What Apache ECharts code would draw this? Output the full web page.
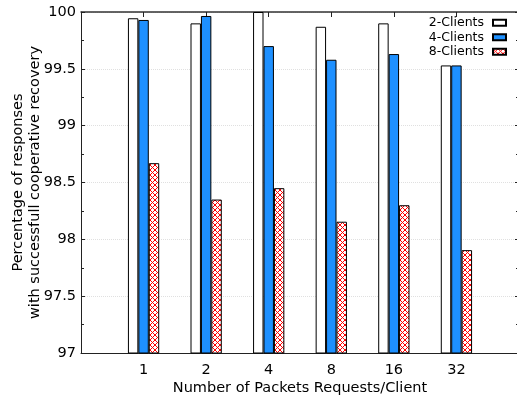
<!DOCTYPE html>
<html><head><meta charset="utf-8">
<script src="https://cdn.jsdelivr.net/npm/echarts@6/dist/echarts.min.js"></script>
<style>html,body{margin:0;padding:0;background:#fff}#c{width:517px;height:395px}</style>
</head><body><div id="c"></div>
<script>
const categories = ['', '1', '2', '4', '8', '16', '32', ''];
const clients2 = ['-', 99.945, 99.90, 100.0, 99.87, 99.90, 99.53, '-'];
const clients4 = ['-', 99.93, 99.965, 99.70, 99.58, 99.63, 99.53, '-'];
const clients8 = ['-', 98.67, 98.35, 98.45, 98.155, 98.30, 97.905, '-'];
const yTicks = { min: 97, max: 100, interval: 0.5 };

function hatch() {
  const c = document.createElement('canvas');
  c.width = 5; c.height = 5;
  const g = c.getContext('2d');
  g.fillStyle = '#fff'; g.fillRect(0, 0, 5, 5);
  g.strokeStyle = '#ff0000'; g.lineWidth = 1;
  g.beginPath();
  g.moveTo(0, 0); g.lineTo(5, 5);
  g.moveTo(5, 0); g.lineTo(0, 5);
  g.stroke();
  return c;
}

const FONT = 'DejaVu Sans';
const chart = echarts.init(document.getElementById('c'), null, { renderer: 'canvas' });
const lineStyle = { color: '#222', width: 1 };
chart.setOption({
  animation: false,
  backgroundColor: '#fff',
  textStyle: { fontFamily: FONT, color: '#000' },
  grid: { left: 81, top: 12, width: 438, height: 341, containLabel: false, outerBoundsMode: 'none' },
  legend: {
    orient: 'vertical', right: 10, top: 15.5, align: 'right', icon: 'rect', padding: 0,
    itemWidth: 13, itemHeight: 6, itemGap: 0,
    textStyle: { fontFamily: FONT, fontSize: 12.5, color: '#000', lineHeight: 14.5, padding: [0, 4, 0, 0] },
    data: ['2-Clients', '4-Clients', '8-Clients']
  },
  xAxis: [{
    type: 'category', data: categories, boundaryGap: false, position: 'bottom',
    axisLine: { show: true, lineStyle },
    axisTick: { show: true, inside: true, length: 5, lineStyle },
    axisLabel: { fontFamily: FONT, fontSize: 14.5, color: '#000', margin: 10, interval: 0 },
    splitLine: { show: false },
    name: 'Number of Packets Requests/Client', nameLocation: 'middle', nameGap: 28,
    nameMoveOverlap: false,
    nameTextStyle: { fontFamily: FONT, fontSize: 14.5, color: '#000' }
  }, {
    type: 'category', data: categories, boundaryGap: false, position: 'top',
    axisLine: { show: true, lineStyle: { color: '#333', width: 1.5 } },
    axisTick: { show: true, inside: true, length: 5, lineStyle },
    axisLabel: { show: false }, splitLine: { show: false }
  }],
  yAxis: [{
    type: 'value', min: yTicks.min, max: yTicks.max, interval: yTicks.interval, position: 'left',
    axisLine: { show: true, lineStyle },
    axisTick: { show: true, inside: true, length: 4, lineStyle },
    minorTick: { show: true, splitNumber: 2, length: 3, lineStyle },
    axisLabel: { fontFamily: FONT, fontSize: 14.5, color: '#000', margin: 5 },
    splitLine: { show: true, lineStyle: { color: '#e0e0e0', type: [1, 1], width: 1 } },
    name: 'Percentage of responses\nwith successfull cooperative recovery',
    nameLocation: 'middle', nameRotate: 90, nameGap: 37.5, nameMoveOverlap: false,
    nameTextStyle: { fontFamily: FONT, fontSize: 14.5, color: '#000', lineHeight: 17 }
  }, {
    type: 'value', min: yTicks.min, max: yTicks.max, interval: yTicks.interval, position: 'right',
    axisLine: { show: true, lineStyle },
    axisTick: { show: true, inside: true, length: 4, lineStyle },
    minorTick: { show: true, splitNumber: 2, length: 3, lineStyle },
    axisLabel: { show: false }, splitLine: { show: false }
  }],
  series: [{
    name: '2-Clients', type: 'bar', data: clients2, barGap: 0, barCategoryGap: '50%',
    itemStyle: { color: '#fff', borderColor: '#000', borderWidth: 1 }
  }, {
    name: '4-Clients', type: 'bar', data: clients4, barGap: 0, barCategoryGap: '50%',
    itemStyle: { color: '#1e90ff', borderColor: '#000', borderWidth: 1 }
  }, {
    name: '8-Clients', type: 'bar', data: clients8, barGap: 0, barCategoryGap: '50%',
    itemStyle: { color: { image: hatch(), repeat: 'repeat' }, borderColor: '#000', borderWidth: 1 }
  }]
});
</script></body></html>
